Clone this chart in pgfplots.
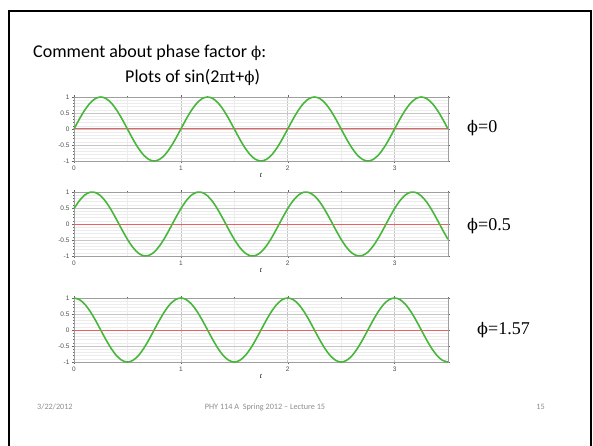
\documentclass[border=0pt]{standalone}
\usepackage{fontspec}
\setmainfont{Carlito}
\newfontfamily\timesf{Liberation Serif}
\newfontfamily\phif{DejaVu Serif}
\newfontfamily\ticksf{Liberation Sans}
\usepackage{pgfplots}
\usepackage{pgfplotstable}
\pgfplotsset{compat=1.18}
\definecolor{curve}{RGB}{72,182,58}
\definecolor{zline}{RGB}{236,96,96}
\definecolor{foot}{RGB}{140,140,140}

\pgfplotstableread{
t a b c
0.00 0 0.479 1
0.05 0.309 0.727 0.951
0.10 0.588 0.904 0.809
0.15 0.809 0.992 0.588
0.20 0.951 0.983 0.309
0.25 1 0.878 0
0.30 0.951 0.687 -0.309
0.35 0.809 0.428 -0.588
0.40 0.588 0.128 -0.809
0.45 0.309 -0.185 -0.951
0.50 0 -0.479 -1
0.55 -0.309 -0.727 -0.951
0.60 -0.588 -0.904 -0.809
0.65 -0.809 -0.992 -0.588
0.70 -0.951 -0.983 -0.309
0.75 -1 -0.878 0
0.80 -0.951 -0.687 0.309
0.85 -0.809 -0.428 0.588
0.90 -0.588 -0.128 0.809
0.95 -0.309 0.185 0.951
1.00 0 0.479 1
1.05 0.309 0.727 0.951
1.10 0.588 0.904 0.809
1.15 0.809 0.992 0.588
1.20 0.951 0.983 0.309
1.25 1 0.878 0
1.30 0.951 0.687 -0.309
1.35 0.809 0.428 -0.588
1.40 0.588 0.128 -0.809
1.45 0.309 -0.185 -0.951
1.50 0 -0.479 -1
1.55 -0.309 -0.727 -0.951
1.60 -0.588 -0.904 -0.809
1.65 -0.809 -0.992 -0.588
1.70 -0.951 -0.983 -0.309
1.75 -1 -0.878 0
1.80 -0.951 -0.687 0.309
1.85 -0.809 -0.428 0.588
1.90 -0.588 -0.128 0.809
1.95 -0.309 0.185 0.951
2.00 0 0.479 1
2.05 0.309 0.727 0.951
2.10 0.588 0.904 0.809
2.15 0.809 0.992 0.588
2.20 0.951 0.983 0.309
2.25 1 0.878 0
2.30 0.951 0.687 -0.309
2.35 0.809 0.428 -0.588
2.40 0.588 0.128 -0.809
2.45 0.309 -0.185 -0.951
2.50 0 -0.479 -1
2.55 -0.309 -0.727 -0.951
2.60 -0.588 -0.904 -0.809
2.65 -0.809 -0.992 -0.588
2.70 -0.951 -0.983 -0.309
2.75 -1 -0.878 0
2.80 -0.951 -0.687 0.309
2.85 -0.809 -0.428 0.588
2.90 -0.588 -0.128 0.809
2.95 -0.309 0.185 0.951
3.00 0 0.479 1
3.05 0.309 0.727 0.951
3.10 0.588 0.904 0.809
3.15 0.809 0.992 0.588
3.20 0.951 0.983 0.309
3.25 1 0.878 0
3.30 0.951 0.687 -0.309
3.35 0.809 0.428 -0.588
3.40 0.588 0.128 -0.809
3.45 0.309 -0.185 -0.951
3.50 0 -0.479 -1
}\sines

\pgfplotsset{
  mapleaxis/.style={
    scale only axis, width=374pt, height=64pt,
    xmin=0, xmax=3.5, ymin=-1, ymax=1,
    xtick={0,1,2,3}, minor xtick={0.5,1.5,2.5,3.5},
    ytick={-1,-0.5,0,0.5,1}, minor y tick num=4,
    grid=both,
    major grid style={gray!45, line width=0.5pt},
    minor grid style={gray!15, line width=0.4pt},
    axis line style={gray!75, line width=0.8pt},
    tick align=outside, major tick length=2pt, minor tick length=1.2pt,
    tick style={gray!80!black, line width=0.4pt},
    /pgf/number format/assume math mode=true,
    tick label style={font=\ticksf\fontsize{6.5}{7}\selectfont, text=black!70},
    xticklabel style={yshift=1pt},
    yticklabel style={xshift=1pt},
    xlabel={\timesf\itshape\fontsize{7.5}{8}\selectfont t},
    xlabel style={yshift=4pt},
    clip=false,
  }
}

\begin{document}
\begin{tikzpicture}
\useasboundingbox (0pt,-446pt) rectangle (593pt,0pt);
\draw[black, line width=2.2pt] (9pt,-460pt) -- (9pt,-11pt) -- (591pt,-11pt) -- (591pt,-460pt);

\node[anchor=base west, inner sep=0] at (33pt,-58pt) {\fontsize{18}{20}\selectfont Comment about phase factor {\phif\fontsize{15}{16}\selectfont ϕ}:};
\node[anchor=base west, inner sep=0] at (125pt,-83pt) {\fontsize{18}{20}\selectfont Plots of sin(2{\phif\fontsize{15}{16}\selectfont π}t+{\phif\fontsize{15}{16}\selectfont ϕ})};

\begin{axis}[mapleaxis, at={(74pt,-97pt)}, anchor=north west]
  \addplot[zline, line width=1pt] coordinates {(0,0.0) (3.5,0.0)};
  \addplot[curve, line width=1.6pt, smooth] table[x=t, y=a] {\sines};
\end{axis}
\begin{axis}[mapleaxis, at={(74pt,-192pt)}, anchor=north west]
  \addplot[zline, line width=1pt] coordinates {(0,0) (3.5,0)};
  \addplot[curve, line width=1.6pt, smooth] table[x=t, y=b] {\sines};
\end{axis}
\begin{axis}[mapleaxis, at={(74pt,-298pt)}, anchor=north west]
  \addplot[zline, line width=1pt] coordinates {(0,0) (3.5,0)};
  \addplot[curve, line width=1.6pt, smooth] table[x=t, y=c] {\sines};
\end{axis}

\node[anchor=base west, inner sep=0] at (467pt,-132.5pt) {\timesf\fontsize{18}{20}\selectfont {\phif\fontsize{16}{18}\selectfont ϕ}=0};
\node[anchor=base west, inner sep=0] at (467pt,-230pt) {\timesf\fontsize{18}{20}\selectfont {\phif\fontsize{16}{18}\selectfont ϕ}=0.5};
\node[anchor=base west, inner sep=0] at (477pt,-334pt) {\timesf\fontsize{18}{20}\selectfont {\phif\fontsize{16}{18}\selectfont ϕ}=1.57};

\node[anchor=base west, inner sep=0, text=foot] at (37pt,-409pt) {\fontsize{8.2}{9}\selectfont 3/22/2012};
\node[anchor=base, inner sep=0, text=foot] at (265pt,-409pt) {\fontsize{8.2}{9}\selectfont PHY 114 A\ \ Spring 2012 -- Lecture 15};
\node[anchor=base east, inner sep=0, text=foot] at (545pt,-409pt) {\fontsize{8.2}{9}\selectfont 15};
\end{tikzpicture}
\end{document}
